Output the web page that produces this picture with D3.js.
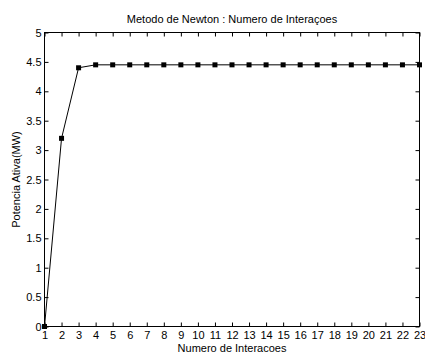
<!DOCTYPE html>
<html>
<head>
<meta charset="utf-8">
<script src="https://cdn.jsdelivr.net/npm/d3@7"></script>
<style>
  html, body { margin: 0; padding: 0; background: #fff; }
  svg { display: block; font-family: "Liberation Sans", Arial, sans-serif; }
</style>
</head>
<body>
<svg id="chart" width="425" height="354"></svg>
<script>
// Iteration index and active power (MW) at each Newton iteration
const iterations = [1, 2, 3, 4, 5, 6, 7, 8, 9, 10, 11, 12, 13, 14, 15, 16, 17, 18, 19, 20, 21, 22, 23];
const power = [0, 3.2, 4.4, 4.45, 4.45, 4.45, 4.45, 4.45, 4.45, 4.45, 4.45, 4.45, 4.45, 4.45, 4.45, 4.45, 4.45, 4.45, 4.45, 4.45, 4.45, 4.45, 4.45];
const yTicks = [0, 0.5, 1, 1.5, 2, 2.5, 3, 3.5, 4, 4.5, 5];

const title = "Metodo de Newton : Numero de Interaçoes";
const xTitle = "Numero de Interacoes";
const yTitle = "Potencia Ativa(MW)";

const svg = d3.select("#chart");
const m = { left: 44.5, right: 419.5, top: 32.5, bottom: 326.5 };

const x = d3.scaleLinear().domain([1, 23]).range([m.left, m.right]);
const y = d3.scaleLinear().domain([0, 5]).range([m.bottom, m.top]);

const tickLen = 4;
const fontSize = 11;

// Bottom axis with labels, ticks pointing inward
const xAxis = d3.axisBottom(x).tickValues(iterations).tickFormat(d3.format("d"))
  .tickSizeInner(-tickLen).tickSizeOuter(0).tickPadding(5);
const gx = svg.append("g").attr("transform", `translate(0,${m.bottom})`).call(xAxis);

// Top mirror axis (ticks only)
const gxt = svg.append("g").attr("transform", `translate(0,${m.top})`)
  .call(d3.axisTop(x).tickValues(iterations).tickFormat("").tickSizeInner(-tickLen).tickSizeOuter(0));

// Left axis with labels
const yAxis = d3.axisLeft(y).tickValues(yTicks).tickFormat(d => String(d))
  .tickSizeInner(-tickLen).tickSizeOuter(0).tickPadding(3);
const gy = svg.append("g").attr("transform", `translate(${m.left},0)`).call(yAxis);

// Right mirror axis (ticks only)
const gyr = svg.append("g").attr("transform", `translate(${m.right},0)`)
  .call(d3.axisRight(y).tickValues(yTicks).tickFormat("").tickSizeInner(-tickLen).tickSizeOuter(0));

[gx, gxt, gy, gyr].forEach(g => {
  g.select(".domain").remove();
  g.selectAll(".tick line").attr("stroke", "#000").attr("stroke-width", 1);
  g.selectAll(".tick text").attr("fill", "#000").style("font-size", fontSize + "px")
    .style("font-family", '"Liberation Sans", Arial, sans-serif');
});
gx.selectAll(".tick text").attr("dy", "0.71em");

// Plot frame
svg.append("rect")
  .attr("x", m.left).attr("y", m.top)
  .attr("width", m.right - m.left).attr("height", m.bottom - m.top)
  .attr("fill", "none").attr("stroke", "#000").attr("stroke-width", 1);

// Data line
const line = d3.line().x((d, i) => x(iterations[i])).y(d => y(d));
svg.append("path").datum(power)
  .attr("d", line).attr("fill", "none").attr("stroke", "#000").attr("stroke-width", 1);

// Square markers
const ms = 5;
svg.append("g").selectAll("rect").data(power).join("rect")
  .attr("x", (d, i) => x(iterations[i]) - ms / 2)
  .attr("y", d => y(d) - ms / 2)
  .attr("width", ms).attr("height", ms)
  .attr("fill", "#000");

// Titles
svg.append("text").attr("x", (m.left + m.right) / 2).attr("y", 23)
  .attr("text-anchor", "middle").style("font-size", fontSize + "px").text(title);
svg.append("text").attr("x", (m.left + m.right) / 2).attr("y", 352)
  .attr("text-anchor", "middle").style("font-size", fontSize + "px").text(xTitle);
svg.append("text")
  .attr("transform", `translate(20,${(m.top + m.bottom) / 2}) rotate(-90)`)
  .attr("text-anchor", "middle").style("font-size", fontSize + "px").text(yTitle);
</script>
</body>
</html>
